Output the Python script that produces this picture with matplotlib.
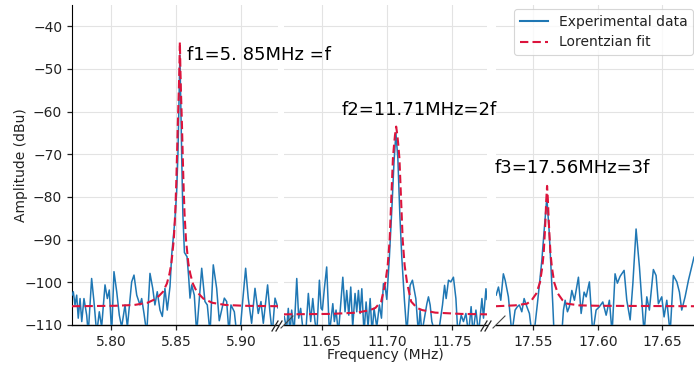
import matplotlib
matplotlib.use("Agg")
import matplotlib.pyplot as plt
from matplotlib.lines import Line2D

# ---------------- data ----------------
p1_freq = [5.7700, 5.7710, 5.7723, 5.7736, 5.7748, 5.7762, 5.7775, 5.7792, 5.7813, 5.7825,
           5.7851, 5.7869, 5.7890, 5.7910, 5.7928, 5.7954, 5.7972, 5.7987, 5.8005, 5.8023,
           5.8044, 5.8064, 5.8082, 5.8108, 5.8126, 5.8159, 5.8177, 5.8198, 5.8223, 5.8236,
           5.8254, 5.8275, 5.8300, 5.8321, 5.8338, 5.8356, 5.8377, 5.8395, 5.8415, 5.8433,
           5.8454, 5.8467, 5.8490, 5.8505, 5.8515, 5.8523, 5.8530, 5.8537, 5.8545, 5.8553,
           5.8565, 5.8585, 5.8597, 5.8608, 5.8621, 5.8641, 5.8659, 5.8698, 5.8723, 5.8741,
           5.8762, 5.8787, 5.8813, 5.8833, 5.8872, 5.8890, 5.8908, 5.8923, 5.8949, 5.8967,
           5.8992, 5.9013, 5.9036, 5.9056, 5.9082, 5.9108, 5.9133, 5.9154, 5.9172, 5.9205,
           5.9223, 5.9241, 5.9262, 5.9285]
p1_amp = [-103.0, -102.2, -105.3, -103.0, -108.4, -103.8, -109.2, -103.8, -107.7, -112.0,
          -99.1, -104.5, -112.0, -106.9, -110.5, -100.6, -103.8, -101.8, -112.0, -97.5,
          -102.2, -107.7, -110.5, -105.3, -110.5, -99.9, -98.3, -103.0, -105.3, -103.8,
          -107.3, -112.0, -97.9, -101.4, -105.3, -102.2, -106.5, -108.0, -101.4, -106.5,
          -101.0, -93.6, -86.0, -79.0, -70.0, -58.0, -46.7, -58.0, -72.0, -84.0,
          -93.0, -94.0, -98.5, -103.7, -100.6, -103.0, -112.0, -96.7, -104.5, -105.3,
          -112.0, -95.9, -101.4, -109.0, -103.7, -104.5, -112.0, -105.3, -106.9, -112.0,
          -112.0, -104.5, -96.7, -103.7, -109.6, -101.4, -107.3, -104.5, -109.6, -100.6,
          -107.0, -112.0, -103.7, -106.0]

p1_fit_freq = [5.7700, 5.8030, 5.8180, 5.8280, 5.8350, 5.8400, 5.8430, 5.8450, 5.8465, 5.8483,
               5.8494, 5.8502, 5.8510, 5.8514, 5.8518, 5.8522, 5.8526, 5.8530, 5.8534, 5.8538,
               5.8542, 5.8546, 5.8550, 5.8558, 5.8566, 5.8577, 5.8595, 5.8610, 5.8630, 5.8660,
               5.8710, 5.8780, 5.8880, 5.9030, 5.9285]
p1_fit_amp = [-105.6, -105.5, -105.3, -104.8, -103.8, -102.2, -100.3, -98.0, -95.5, -90.0,
              -84.0, -77.0, -68.0, -63.0, -59.0, -55.0, -50.0, -43.7, -50.0, -55.0,
              -59.0, -63.0, -68.0, -77.0, -84.0, -90.0, -95.5, -98.0, -100.3, -102.2,
              -103.8, -104.8, -105.3, -105.5, -105.6]

p2_freq = [11.6212, 11.6230, 11.6243, 11.6256, 11.6269, 11.6287, 11.6308, 11.6323, 11.6338, 11.6359,
           11.6379, 11.6397, 11.6415, 11.6431, 11.6448, 11.6462, 11.6482, 11.6495, 11.6505, 11.6520,
           11.6538, 11.6559, 11.6585, 11.6597, 11.6610, 11.6628, 11.6662, 11.6679, 11.6692, 11.6708,
           11.6723, 11.6738, 11.6756, 11.6769, 11.6782, 11.6795, 11.6808, 11.6825, 11.6841, 11.6856,
           11.6872, 11.6887, 11.6902, 11.6923, 11.6943, 11.6959, 11.6974, 11.6987, 11.7000, 11.7020,
           11.7040, 11.7055, 11.7070, 11.7085, 11.7100, 11.7115, 11.7135, 11.7154, 11.7179, 11.7197,
           11.7223, 11.7243, 11.7256, 11.7269, 11.7308, 11.7320, 11.7333, 11.7346, 11.7372, 11.7397,
           11.7428, 11.7444, 11.7456, 11.7474, 11.7492, 11.7512, 11.7531, 11.7546, 11.7572, 11.7589,
           11.7608, 11.7628, 11.7648, 11.7662, 11.7685, 11.7705, 11.7731, 11.7743, 11.7762, 11.7770]
p2_amp = [-108.0, -111.0, -106.1, -112.0, -106.5, -112.0, -99.1, -108.4, -106.1, -112.0,
          -111.0, -102.6, -109.2, -103.8, -109.2, -112.0, -99.5, -106.1, -106.5, -101.5,
          -96.4, -112.0, -105.0, -109.2, -106.5, -112.0, -98.8, -106.9, -101.9, -107.7,
          -101.1, -110.5, -102.6, -106.9, -101.9, -107.3, -101.5, -112.0, -104.6, -110.5,
          -103.8, -112.0, -106.1, -110.5, -105.3, -108.4, -100.3, -101.0, -104.0, -94.0,
          -82.0, -72.0, -65.0, -71.0, -84.0, -94.0, -104.0, -112.0, -100.7, -99.5,
          -103.8, -112.0, -106.5, -112.0, -105.0, -103.4, -105.3, -109.2, -112.0, -112.0,
          -105.3, -100.7, -103.8, -99.5, -99.9, -98.8, -103.8, -112.0, -107.7, -109.2,
          -107.3, -112.0, -105.7, -112.0, -106.5, -112.0, -103.8, -108.4, -101.5, -104.0]

p2_fit_freq = [11.6210, 11.6572, 11.6772, 11.6872, 11.6912, 11.6957, 11.6989, 11.7007, 11.7022, 11.7035,
               11.7047, 11.7055, 11.7063, 11.7072, 11.7081, 11.7089, 11.7097, 11.7109, 11.7122, 11.7137,
               11.7155, 11.7187, 11.7232, 11.7272, 11.7372, 11.7572, 11.7770]
p2_fit_amp = [-107.5, -107.4, -107.1, -106.5, -106.0, -104.5, -100.0, -96.0, -90.0, -80.0,
              -71.0, -68.0, -65.5, -63.5, -65.5, -68.0, -71.0, -80.0, -90.0, -96.0,
              -100.0, -104.5, -106.0, -106.5, -107.1, -107.4, -107.5]

p3_freq = [17.5211, 17.5229, 17.5247, 17.5267, 17.5281, 17.5306, 17.5333, 17.5358, 17.5376, 17.5391,
           17.5410, 17.5428, 17.5449, 17.5469, 17.5488, 17.5505, 17.5531, 17.5547, 17.5565, 17.5583,
           17.5604, 17.5622, 17.5637, 17.5650, 17.5660, 17.5720, 17.5733, 17.5746, 17.5764, 17.5779,
           17.5798, 17.5818, 17.5849, 17.5870, 17.5893, 17.5909, 17.5934, 17.5960, 17.5986, 17.6012,
           17.6038, 17.6064, 17.6089, 17.6110, 17.6133, 17.6151, 17.6172, 17.6203, 17.6224, 17.6250,
           17.6271, 17.6296, 17.6322, 17.6340, 17.6358, 17.6379, 17.6399, 17.6430, 17.6451, 17.6469,
           17.6495, 17.6513, 17.6534, 17.6560, 17.6585, 17.6612, 17.6632, 17.6650, 17.6676, 17.6702,
           17.6745]
p3_amp = [-103.0, -101.1, -104.2, -98.0, -99.5, -103.4, -112.0, -106.5, -105.7, -105.3,
          -106.9, -103.8, -105.7, -107.3, -112.0, -112.0, -105.0, -100.3, -95.0, -88.0,
          -80.1, -88.0, -97.0, -105.0, -112.0, -112.0, -106.5, -104.2, -106.9, -105.7,
          -101.9, -104.2, -98.8, -107.3, -102.3, -103.4, -99.9, -112.0, -106.5, -105.7,
          -104.6, -107.7, -104.2, -112.0, -98.0, -100.2, -98.6, -97.2, -104.2, -108.8,
          -100.3, -87.5, -96.4, -104.2, -112.0, -103.4, -106.5, -97.0, -98.4, -105.0,
          -103.4, -108.1, -104.2, -112.0, -98.4, -99.9, -102.3, -106.5, -103.4, -99.5,
          -94.1]

p3_fit_freq = [17.5210, 17.5356, 17.5451, 17.5486, 17.5523, 17.5551, 17.5569, 17.5580, 17.5588, 17.5594,
               17.5600, 17.5606, 17.5612, 17.5618, 17.5624, 17.5632, 17.5643, 17.5661, 17.5689, 17.5726,
               17.5761, 17.5856, 17.6006, 17.6746]
p3_fit_amp = [-105.6, -105.4, -105.0, -104.2, -102.6, -100.0, -96.4, -93.0, -88.7, -85.0,
              -80.5, -77.4, -80.5, -85.0, -88.7, -93.0, -96.4, -100.0, -102.6, -104.2,
              -105.0, -105.4, -105.5, -105.6]

xlims = [(5.770, 5.9285), (11.621, 11.777), (17.521, 17.6745)]
xticks = [[5.80, 5.85, 5.90], [11.65, 11.70, 11.75], [17.55, 17.60, 17.65]]
yticks = [-110, -100, -90, -80, -70, -60, -50, -40]
labels = ["f1=5. 85MHz =f", "f2=11.71MHz=2f", "f3=17.56MHz=3f"]
label_pos = [(5.8585, -46.7), (11.6654, -59.6), (17.5203, -73.3)]

# ---------------- figure ----------------
W, H = 694, 367
fig = plt.figure(figsize=(W / 100, H / 100), dpi=100)
fig.patch.set_facecolor("white")

bottom_px, top_px = 325, 5
ax_px = [(72, 278), (284, 487), (496, 694)]
axes = []
for (l, r) in ax_px:
    ax = fig.add_axes([l / W, 1 - bottom_px / H, (r - l) / W, (bottom_px - top_px) / H])
    ax.patch.set_alpha(0)
    axes.append(ax)

BLUE = "#1f77b4"
RED = "#dc143c"
data = [(p1_freq, p1_amp, p1_fit_freq, p1_fit_amp),
        (p2_freq, p2_amp, p2_fit_freq, p2_fit_amp),
        (p3_freq, p3_amp, p3_fit_freq, p3_fit_amp)]

for i, ax in enumerate(axes):
    fx, fy, ffx, ffy = data[i]
    ax.plot(fx, fy, color=BLUE, lw=1.1, zorder=3)
    ax.plot(ffx, ffy, color=RED, lw=1.5, ls=(0, (4, 2)), zorder=4)
    ax.set_xlim(*xlims[i])
    ax.set_ylim(-110, -35)
    ax.set_xticks(xticks[i])
    ax.set_xticklabels([f"{t:.2f}" for t in xticks[i]])
    ax.set_yticks(yticks)
    ax.grid(True, color="#e3e3e3", lw=0.8, zorder=0)
    ax.set_axisbelow(True)
    for s in ["top", "right"]:
        ax.spines[s].set_visible(False)
    ax.spines["bottom"].set_linewidth(1.0)
    ax.tick_params(axis="both", labelsize=10, colors="#222222", length=3.5, width=0.9)
    if i > 0:
        ax.spines["left"].set_visible(False)
        ax.tick_params(axis="y", left=False, labelleft=False)
    tx, ty = label_pos[i]
    ax.text(tx, ty, labels[i], fontsize=13, va="center", ha="left", zorder=10, clip_on=False)

axes[0].set_ylabel("Amplitude (dBu)", fontsize=10, color="#222222")
axes[0].yaxis.set_label_coords((28.5 - 72) / 206, 0.5)
axes[1].set_xlabel("Frequency (MHz)", fontsize=10, color="#222222")
axes[1].xaxis.set_label_coords(0.5, (325 - 347.5) / 320)

# break marks
def fig_line(x0, y0, x1, y1, lw=0.9, color="#222222"):
    fig.add_artist(Line2D([x0 / W, x1 / W], [1 - y0 / H, 1 - y1 / H],
                          transform=fig.transFigure, color=color, lw=lw))

for xr in (278, 487):
    fig_line(xr - 6, 331, xr, 321)
    fig_line(xr - 2, 331, xr + 4, 321)
for xl in (284, 496):
    fig_line(xl - 3, 328, xl + 9, 316, lw=0.8, color="#444444")

handles = [Line2D([], [], color=BLUE, lw=1.5), Line2D([], [], color=RED, lw=1.5, ls=(0, (4, 2)))]
leg = fig.legend(handles, ["Experimental data", "Lorentzian fit"], loc="upper right",
                 bbox_to_anchor=(693 / W, 1 - 9 / H), bbox_transform=fig.transFigure,
                 fontsize=10, frameon=True, borderaxespad=0, fancybox=True)
leg.get_frame().set_edgecolor("#cccccc")
leg.get_frame().set_linewidth(0.8)
for t in leg.get_texts():
    t.set_color("#222222")

fig.savefig("out.png", dpi=100)
